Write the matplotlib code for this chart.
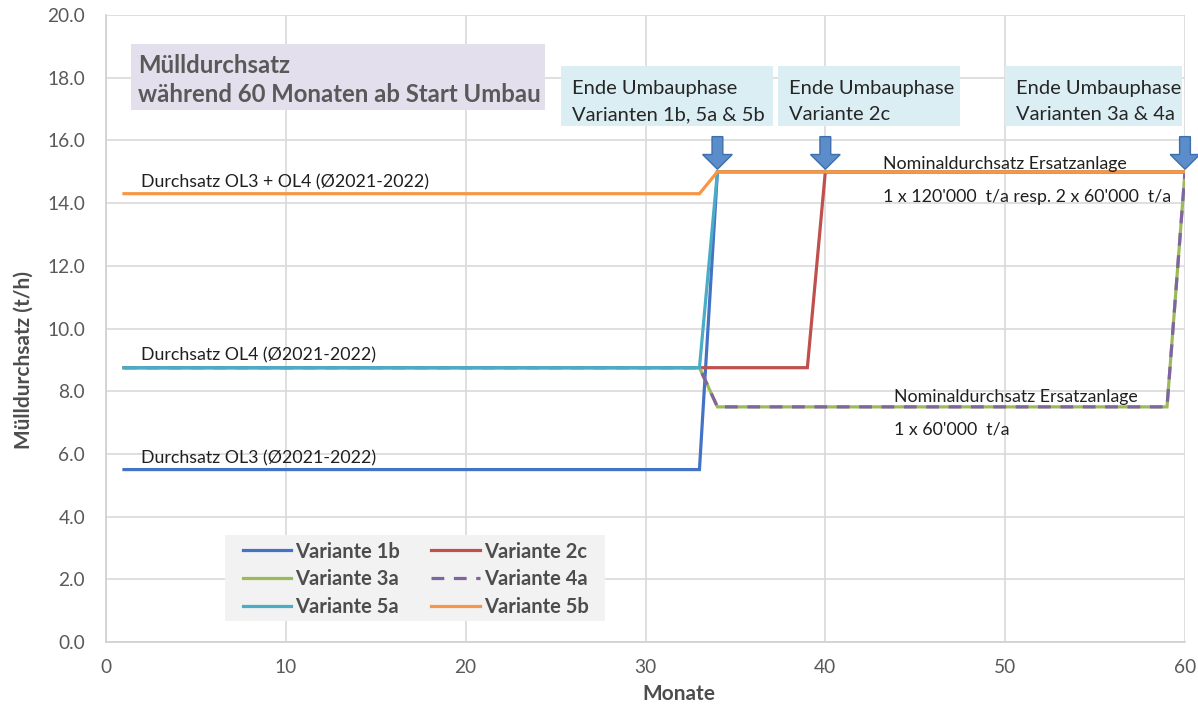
import matplotlib
matplotlib.use("Agg")
import matplotlib.pyplot as plt
from matplotlib.patches import Rectangle, FancyArrow

plt.rcParams['font.family'] = ['Lato', 'DejaVu Sans']

# Months since the start of the conversion
months = list(range(1, 61))

# Throughput levels (t/h)
ol3 = 5.5
ol4 = 8.75
ol34 = 14.3
nominal_big = 15.0
nominal_small = 7.5


def series(before, steps):
    """Level per month: starts at `before`, switches to each (month, level) step."""
    vals = []
    for m in months:
        v = before
        for start, level in steps:
            if m >= start:
                v = level
        vals.append(v)
    return vals


v1b = series(ol3, [(34, nominal_big)])
v2c = series(ol4, [(40, nominal_big)])
v3a = series(ol4, [(34, nominal_small), (60, nominal_big)])
v4a = series(ol4, [(34, nominal_small), (60, nominal_big)])
v5a = series(ol4, [(34, nominal_big)])
v5b = series(ol34, [(34, nominal_big)])

names = ["Variante 1b", "Variante 2c", "Variante 3a", "Variante 4a", "Variante 5a", "Variante 5b"]
values = [v1b, v2c, v3a, v4a, v5a, v5b]
colors = ["#4472C4", "#C0504D", "#9BBB59", "#8064A2", "#4BACC6", "#F79646"]
styles = ["-", "-", "-", "--", "-", "-"]

end_months = [34, 40, 60]
end_line1 = ["Ende Umbauphase", "Ende Umbauphase", "Ende Umbauphase"]
end_line2 = ["Varianten 1b, 5a & 5b", "Variante 2c", "Varianten 3a & 4a"]

fig = plt.figure(figsize=(11.98, 7.04), dpi=100)
ax = fig.add_axes([106/1198, 1-642/704, (1185-106)/1198, (642-15)/704])

lines = []
for name, vals, c, ls in zip(names, values, colors, styles):
    kw = dict(dashes=(4, 3)) if ls == "--" else {}
    ln, = ax.plot(months, vals, color=c, lw=2.3, label=name, solid_joinstyle='miter', **kw)
    lines.append(ln)

ax.set_xlim(0, 60)
ax.set_ylim(0, 20)
ax.set_xticks(range(0, 61, 10))
ax.set_yticks(range(0, 21, 2))
ax.yaxis.set_major_formatter(matplotlib.ticker.FormatStrFormatter("%.1f"))
ax.grid(True, color="#D9D9D9", lw=1.2)
ax.set_axisbelow(True)
for s in ["top", "right"]:
    ax.spines[s].set_visible(False)
for s in ["left", "bottom"]:
    ax.spines[s].set_color("#D0D0D0")
    ax.spines[s].set_linewidth(1.2)
ax.tick_params(length=0, labelsize=13.8, colors="#595959")
ax.tick_params(axis='y', pad=15)
ax.tick_params(axis='x', pad=12)

ax.set_xlabel("Monate", fontsize=15, fontweight="bold", color="#4D4D4D", labelpad=6)
ax.set_ylabel("Mülldurchsatz (t/h)", fontsize=15, fontweight="bold", color="#4D4D4D", labelpad=10)
ax.xaxis.label.set_x(0.531)
ax.yaxis.label.set_y(0.45)

# Title box
ax.add_patch(Rectangle((1.39, 16.97), 23.03, 2.1, facecolor="#E4DFEC", edgecolor="none", zorder=3))
title_kw = dict(fontsize=17.2, fontweight="bold", color="#595959", va="baseline", ha="left", zorder=4)
ax.text(1.78, 18.15, "Mülldurchsatz", **title_kw)
ax.text(1.78, 17.22, "während 60 Monaten ab Start Umbau", **title_kw)

# End-of-conversion boxes and arrows
boxes = [(25.31, 37.10), (37.37, 47.50), (50.0, 59.84)]
for (x0, x1), l1, l2, m in zip(boxes, end_line1, end_line2, end_months):
    ax.add_patch(Rectangle((x0, 16.45), x1 - x0, 1.92, facecolor="#DAEEF3", edgecolor="none",
                           zorder=3, clip_on=False))
    box_kw = dict(fontsize=14.5, color="#262626", va="baseline", ha="left", zorder=4)
    ax.text(x0 + 0.6, 17.48, l1, **box_kw)
    ax.text(x0 + 0.6, 16.65, l2, **box_kw)
    ax.add_patch(FancyArrow(m, 16.12, 0, -1.04, width=0.6, head_width=1.65, head_length=0.47,
                            length_includes_head=True, facecolor="#5B8DCB", edgecolor="#3F6FAA",
                            lw=1.0, zorder=5, clip_on=False))

# Level labels
txt_kw = dict(fontsize=12.8, color="#1F1F1F", ha="left", va="bottom", zorder=4)
ax.text(1.95, 14.4, "Durchsatz OL3 + OL4 (Ø2021-2022)", **txt_kw)
ax.text(1.95, 8.9, "Durchsatz OL4 (Ø2021-2022)", **txt_kw)
ax.text(1.95, 5.6, "Durchsatz OL3 (Ø2021-2022)", **txt_kw)
ax.text(43.2, 14.99, "Nominaldurchsatz Ersatzanlage", **txt_kw)
ax.text(43.2, 13.94, "1 x 120'000  t/a resp. 2 x 60'000  t/a", **txt_kw)
ax.text(43.8, 7.57, "Nominaldurchsatz Ersatzanlage", **txt_kw)
ax.text(43.8, 6.52, "1 x 60'000  t/a", **txt_kw)

# Legend on a grey panel
ax.add_patch(Rectangle((225/1198, 1-621/704), 380/1198, 86/704, transform=fig.transFigure,
                       facecolor="#F2F2F2", edgecolor="none", zorder=4, clip_on=False))
order = [0, 2, 4, 1, 3, 5]
leg = ax.legend([lines[i] for i in order], [names[i] for i in order], ncol=2,
                loc="upper left", bbox_to_anchor=(243/1198, 1-541.5/704), bbox_transform=fig.transFigure,
                frameon=False, prop={"size": 14.5, "weight": "bold"}, handlelength=2.4,
                handletextpad=0.2, columnspacing=1.55, labelspacing=0.38, borderpad=0,
                borderaxespad=0)
leg.set_zorder(6)
for t in leg.get_texts():
    t.set_color("#4D4D4D")

fig.savefig("out.png", dpi=100, facecolor="white")
